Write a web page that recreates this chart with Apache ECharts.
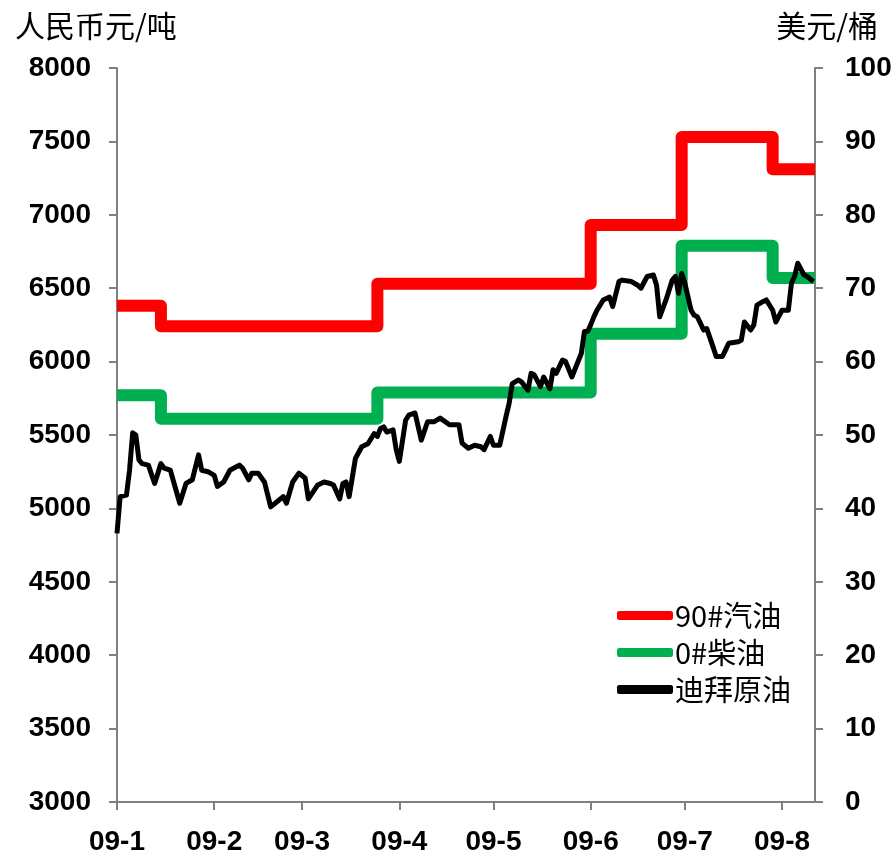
<!DOCTYPE html>
<html>
<head>
<meta charset="utf-8">
<script src="https://cdn.jsdelivr.net/npm/echarts@6/dist/echarts.min.js"></script>
<style>
html,body{margin:0;padding:0;background:#fff;}
#chart{width:895px;height:860px;}
</style>
</head>
<body>
<div id="chart"></div>
<script>
// ---- data ----
const seriesNames = ['90#汽油', '0#柴油', '迪拜原油'];
const leftAxisName = '人民币元/吨';
const rightAxisName = '美元/桶';

// domestic price adjustment dates and wholesale prices (RMB/ton)
const changeDates = ['2009-01-01','2009-01-15','2009-03-25','2009-06-01','2009-06-30','2009-07-29','2009-08-11 12:00'];
const gasolinePrices = [6380, 6240, 6530, 6930, 7530, 7310, 7310];
const dieselPrices = [5770, 5610, 5790, 6190, 6790, 6570, 6570];

// Dubai crude (USD/bbl)
const dubaiDates = [
'2009-01-01','2009-01-02','2009-01-04','2009-01-05','2009-01-06','2009-01-07','2009-01-08','2009-01-09','2009-01-11','2009-01-13',
'2009-01-15','2009-01-16','2009-01-18','2009-01-21','2009-01-23','2009-01-25','2009-01-27','2009-01-28','2009-01-30','2009-02-01',
'2009-02-02','2009-02-04','2009-02-06','2009-02-09','2009-02-10','2009-02-12','2009-02-13',
'2009-02-15','2009-02-17','2009-02-19','2009-02-21','2009-02-23','2009-02-24','2009-02-26','2009-02-28','2009-03-02','2009-03-03',
'2009-03-06','2009-03-08','2009-03-10','2009-03-11','2009-03-13','2009-03-14','2009-03-15','2009-03-16','2009-03-18','2009-03-20',
'2009-03-22','2009-03-24','2009-03-25','2009-03-26','2009-03-27','2009-03-28','2009-03-30',
'2009-03-31','2009-04-01','2009-04-03','2009-04-04','2009-04-06','2009-04-08','2009-04-10','2009-04-12','2009-04-14','2009-04-17',
'2009-04-20','2009-04-21','2009-04-23','2009-04-25','2009-04-27','2009-04-28','2009-04-30','2009-05-01','2009-05-03','2009-05-05',
'2009-05-06','2009-05-07','2009-05-09','2009-05-10','2009-05-12','2009-05-13','2009-05-14',
'2009-05-16','2009-05-17','2009-05-19','2009-05-20','2009-05-21','2009-05-23','2009-05-24','2009-05-26','2009-05-29','2009-05-30',
'2009-05-31','2009-06-01','2009-06-02','2009-06-03','2009-06-05','2009-06-07','2009-06-08','2009-06-10','2009-06-11','2009-06-14',
'2009-06-16','2009-06-17','2009-06-19','2009-06-21','2009-06-22','2009-06-23','2009-06-25','2009-06-27','2009-06-28',
'2009-06-29','2009-06-30','2009-07-01','2009-07-03','2009-07-04','2009-07-05','2009-07-07','2009-07-08','2009-07-10','2009-07-11',
'2009-07-13','2009-07-14','2009-07-15','2009-07-18','2009-07-19','2009-07-20','2009-07-22','2009-07-23','2009-07-24','2009-07-26',
'2009-07-27','2009-07-29','2009-07-30','2009-08-01','2009-08-03','2009-08-04','2009-08-05','2009-08-06','2009-08-08','2009-08-09',
'2009-08-11'
];
const dubaiValues = [
36.6,41.6,41.8,45.2,50.3,50.0,46.6,46.1,45.9,43.4,
46.1,45.5,45.2,40.7,43.4,43.9,47.3,45.2,45.0,44.5,
43.0,43.6,45.2,45.9,45.5,43.9,44.8,
44.8,43.6,40.2,40.9,41.6,40.7,43.6,44.8,44.1,41.3,
43.2,43.6,43.4,43.2,41.3,43.4,43.6,41.6,46.8,48.4,
48.8,50.2,49.8,50.9,51.1,50.4,50.7,
48.0,46.4,52.0,52.7,53.0,49.3,51.8,51.8,52.3,51.4,
51.4,48.9,48.2,48.6,48.4,48.0,49.8,48.6,48.6,52.5,
54.3,57.0,57.5,57.2,56.1,58.4,58.2,
56.6,57.9,56.3,58.9,58.4,60.2,60.0,57.9,61.1,64.1,
64.1,65.0,66.1,67.0,68.4,68.8,67.5,70.9,71.1,70.9,
70.4,70.0,71.6,71.8,70.4,66.1,68.4,71.1,71.6,
69.3,72.0,70.7,67.0,66.3,66.1,64.3,64.5,62.0,60.7,
60.7,61.6,62.5,62.7,62.9,65.4,64.3,65.0,67.7,68.2,
68.4,67.0,65.4,67.0,67.0,70.7,71.6,73.4,71.8,71.6,
70.9
];

const xMin = '2009-01-01';
const xMax = '2009-08-11 12:00';
const leftMin = 3000, leftMax = 8000, leftStep = 500;
const rightMin = 0, rightMax = 100, rightStep = 10;

// ---- chart ----
const chart = echarts.init(document.getElementById('chart'));
const axisGrey = '#808080';
const labelFont = {fontFamily: 'Liberation Sans, Arial, sans-serif', fontWeight: 'bold', fontSize: 28, color: '#000'};
const cjkFont = 'Noto Sans CJK SC';
const plain = v => String(v);

chart.setOption({
  animation: false,
  backgroundColor: '#fff',
  grid: {left: 117, right: 80, top: 68, bottom: 58, containLabel: false},
  title: [
    {text: leftAxisName, left: 10, top: 6, textStyle: {fontFamily: cjkFont, fontSize: 30, fontWeight: 'normal', color: '#000'}},
    {text: rightAxisName, right: 12, top: 6, textStyle: {fontFamily: cjkFont, fontSize: 30, fontWeight: 'normal', color: '#000'}}
  ],
  legend: {
    orient: 'vertical',
    left: 612,
    top: 596,
    itemWidth: 56,
    itemHeight: 9,
    itemGap: 8,
    icon: 'roundRect',
    textStyle: {fontFamily: cjkFont, fontSize: 29, color: '#000', padding: [0, 0, 0, -3]},
    data: seriesNames
  },
  xAxis: {
    type: 'time',
    min: xMin,
    max: xMax,
    splitNumber: 8,
    minInterval: 28 * 24 * 3600 * 1000,
    maxInterval: 31 * 24 * 3600 * 1000,
    axisLine: {lineStyle: {color: axisGrey, width: 2}},
    axisTick: {show: true, inside: false, length: 8, lineStyle: {color: axisGrey, width: 2}},
    minorTick: {show: false},
    splitLine: {show: false},
    axisLabel: Object.assign({margin: 26, formatter: '{yy}-{M}', hideOverlap: false, showMaxLabel: false}, labelFont)
  },
  yAxis: [
    {
      type: 'value', min: leftMin, max: leftMax, interval: leftStep,
      axisLine: {show: true, lineStyle: {color: axisGrey, width: 2}},
      axisTick: {show: true, inside: false, length: 8, lineStyle: {color: axisGrey, width: 2}},
      splitLine: {show: false},
      axisLabel: Object.assign({margin: 26, formatter: plain}, labelFont)
    },
    {
      type: 'value', min: rightMin, max: rightMax, interval: rightStep, position: 'right',
      axisLine: {show: true, lineStyle: {color: axisGrey, width: 2}},
      axisTick: {show: true, inside: false, length: 8, lineStyle: {color: axisGrey, width: 2}},
      splitLine: {show: false},
      axisLabel: Object.assign({margin: 30, formatter: plain}, labelFont)
    }
  ],
  series: [
    {
      name: seriesNames[0], type: 'line', yAxisIndex: 0, step: 'end', symbol: 'none',
      data: changeDates.map((d, i) => [d, gasolinePrices[i]]),
      itemStyle: {color: '#FF0000'},
      lineStyle: {color: '#FF0000', width: 12, join: 'round'}
    },
    {
      name: seriesNames[1], type: 'line', yAxisIndex: 0, step: 'end', symbol: 'none',
      data: changeDates.map((d, i) => [d, dieselPrices[i]]),
      itemStyle: {color: '#00B050'},
      lineStyle: {color: '#00B050', width: 12, join: 'round'}
    },
    {
      name: seriesNames[2], type: 'line', yAxisIndex: 1, symbol: 'none',
      data: dubaiDates.map((d, i) => [d, dubaiValues[i]]),
      itemStyle: {color: '#000000'},
      lineStyle: {color: '#000000', width: 5, join: 'round'}
    }
  ]
});
</script>
</body>
</html>
